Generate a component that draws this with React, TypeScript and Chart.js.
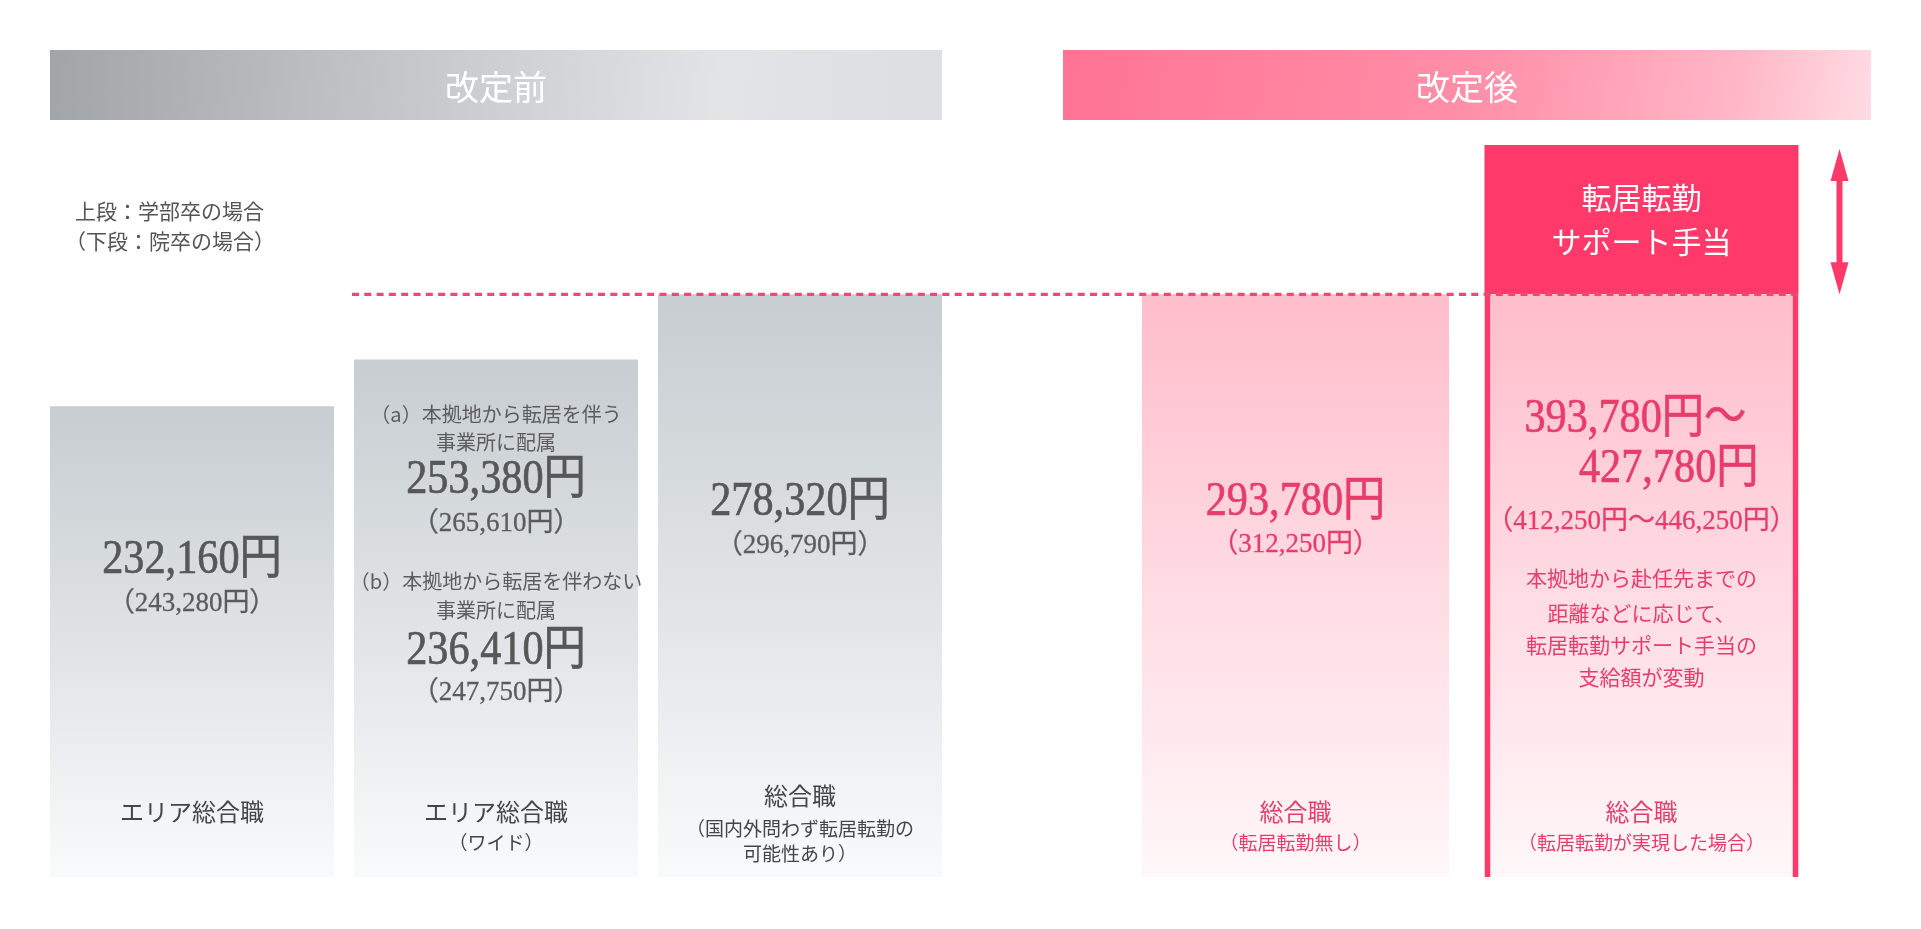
import React, { useEffect, useRef } from 'react';
import { Chart, registerables } from 'chart.js';

Chart.register(...registerables);

// ---------- data ----------
const headerTitles = ['改定前', '改定後'];
const noteLines = ['上段：学部卒の場合', '（下段：院卒の場合）'];

const beforeCategories = ['エリア総合職', 'エリア総合職（ワイド）', '総合職'];
// column heights, in % of the tallest column
const beforeLevels = [64.3, 70.7, 79.6];
const beforeUndergrad = [[232160], [253380, 236410], [278320]];
const beforeGraduate = [[243280], [265610, 247750], [296790]];
const beforeCaseNotes = [
  ['（a）本拠地から転居を伴う', '事業所に配属'],
  ['（b）本拠地から転居を伴わない', '事業所に配属'],
];
const beforeLabelLines = [
  ['エリア総合職'],
  ['エリア総合職', '（ワイド）'],
  ['総合職', '（国内外問わず転居転勤の', '可能性あり）'],
];

const afterCategories = ['総合職（転居転勤無し）', '総合職（転居転勤が実現した場合）'];
const afterBaseLevels = [79.6, 79.6];
const allowanceLevels = [79.6, 100];
const afterUndergrad = [[293780], [393780, 427780]];
const afterGraduate = [[312250], [412250, 446250]];
const afterLabelLines = [
  ['総合職', '（転居転勤無し）'],
  ['総合職', '（転居転勤が実現した場合）'],
];
const allowanceTitle = ['転居転勤', 'サポート手当'];
const allowanceNote = ['本拠地から赴任先までの', '距離などに応じて、', '転居転勤サポート手当の', '支給額が変動'];

// ---------- helpers ----------
const JP = '"Noto Sans CJK JP", "Noto Sans", sans-serif';
const NUM = '"Liberation Serif", "Noto Sans CJK JP", serif';
const PINK = '#ff3a6a';
const PINK_TEXT = '#e83d6b';
const GRAY_NUM = '#575757';
const GRAY_TEXT = '#5c5c5c';
const GRAY_LABEL = '#454545';

const yen = (n: number) => n.toLocaleString('en-US') + '円';

function drawText(
  ctx: CanvasRenderingContext2D,
  s: string,
  x: number,
  y: number,
  size: number,
  color: string,
  family: string,
  align: CanvasTextAlign = 'center',
  sx = 1,
  stroke = 0
) {
  ctx.save();
  ctx.font = `${size}px ${family}`;
  ctx.fillStyle = color;
  ctx.textBaseline = 'middle';
  ctx.textAlign = align;
  ctx.translate(x, y);
  ctx.scale(sx, 1);
  ctx.fillText(s, 0, 0);
  if (stroke > 0) {
    ctx.strokeStyle = color;
    ctx.lineWidth = stroke;
    ctx.strokeText(s, 0, 0);
  }
  ctx.restore();
}

const bigNum = (ctx: CanvasRenderingContext2D, s: string, x: number, y: number, color: string, align: CanvasTextAlign = 'center') =>
  drawText(ctx, s, x, y, 48, color, NUM, align, 0.88, 0.7);
const smallNum = (ctx: CanvasRenderingContext2D, s: string, x: number, y: number, color: string) =>
  drawText(ctx, s, x, y, 27, color, NUM, 'center', 1, 0.3);

const vGrad = (stops: [number, string][]) => (c: any) => {
  const chart = c.chart;
  const area = chart.chartArea;
  if (!area || c.type !== 'data' || !c.parsed || c.parsed.y == null) return stops[0][1];
  const top = chart.scales.y.getPixelForValue(c.parsed.y);
  const g = chart.ctx.createLinearGradient(0, top, 0, area.bottom);
  stops.forEach(([o, col]) => g.addColorStop(o, col));
  return g;
};

const grayStops: [number, string][] = [
  [0, '#c7cdd1'],
  [0.45, '#dde1e4'],
  [1, '#f9fafb'],
];
const pinkStops: [number, string][] = [
  [0, '#ffbdcb'],
  [0.5, '#ffdbe3'],
  [1, '#fff7f9'],
];

const DASH_PERIOD = 12.3;
function dashedLine(ctx: CanvasRenderingContext2D, x0: number, x1: number, y: number, offset: number) {
  ctx.save();
  ctx.strokeStyle = '#ec4a73';
  ctx.lineWidth = 3.2;
  ctx.setLineDash([7, DASH_PERIOD - 7]);
  ctx.lineDashOffset = offset;
  ctx.beginPath();
  ctx.moveTo(x0, y);
  ctx.lineTo(x1, y);
  ctx.stroke();
  ctx.restore();
}

// ---------- left (before) decorations ----------
const leftPlugin = {
  id: 'leftDecor',
  beforeDatasetsDraw(chart: any) {
    const ctx: CanvasRenderingContext2D = chart.ctx;
    const a = chart.chartArea;
    const x0 = a.left + 10;
    const x1 = a.right - 10;
    const g = ctx.createLinearGradient(x0, 50, x1, 140);
    g.addColorStop(0, '#a2a5a8');
    g.addColorStop(0.45, '#c9cbce');
    g.addColorStop(0.75, '#e3e4e6');
    g.addColorStop(1, '#dddee1');
    ctx.fillStyle = g;
    ctx.fillRect(x0, 50, x1 - x0, 70);
    drawText(ctx, headerTitles[0], (x0 + x1) / 2, 87, 34, '#ffffff', JP);
    drawText(ctx, noteLines[0], 75, 211, 21, '#555555', JP, 'left');
    drawText(ctx, noteLines[1], 65, 241, 21, '#555555', JP, 'left');
  },
  afterDatasetsDraw(chart: any) {
    const ctx: CanvasRenderingContext2D = chart.ctx;
    const y = chart.scales.y;
    const els = chart.getDatasetMeta(0).data;
    dashedLine(ctx, 352, chart.width, y.getPixelForValue(beforeLevels[2]), 0);

    // bar 1
    const x1 = els[0].x;
    bigNum(ctx, yen(beforeUndergrad[0][0]), x1, 560, GRAY_NUM);
    smallNum(ctx, '（' + yen(beforeGraduate[0][0]) + '）', x1, 604, GRAY_TEXT);
    drawText(ctx, beforeLabelLines[0][0], x1, 812, 24, GRAY_LABEL, JP);

    // bar 2
    const x2 = els[1].x;
    drawText(ctx, beforeCaseNotes[0][0], x2, 414, 20, GRAY_TEXT, JP);
    drawText(ctx, beforeCaseNotes[0][1], x2, 442, 20, GRAY_TEXT, JP);
    bigNum(ctx, yen(beforeUndergrad[1][0]), x2, 480, GRAY_NUM);
    smallNum(ctx, '（' + yen(beforeGraduate[1][0]) + '）', x2, 524, GRAY_TEXT);
    drawText(ctx, beforeCaseNotes[1][0], x2, 581, 20, GRAY_TEXT, JP);
    drawText(ctx, beforeCaseNotes[1][1], x2, 610, 20, GRAY_TEXT, JP);
    bigNum(ctx, yen(beforeUndergrad[1][1]), x2, 651, GRAY_NUM);
    smallNum(ctx, '（' + yen(beforeGraduate[1][1]) + '）', x2, 693, GRAY_TEXT);
    drawText(ctx, beforeLabelLines[1][0], x2, 812, 24, GRAY_LABEL, JP);
    drawText(ctx, beforeLabelLines[1][1], x2, 843, 19, GRAY_LABEL, JP);

    // bar 3
    const x3 = els[2].x;
    bigNum(ctx, yen(beforeUndergrad[2][0]), x3, 502, GRAY_NUM);
    smallNum(ctx, '（' + yen(beforeGraduate[2][0]) + '）', x3, 546, GRAY_TEXT);
    drawText(ctx, beforeLabelLines[2][0], x3, 796, 24, GRAY_LABEL, JP);
    drawText(ctx, beforeLabelLines[2][1], x3, 829, 19, GRAY_LABEL, JP);
    drawText(ctx, beforeLabelLines[2][2], x3, 854, 19, GRAY_LABEL, JP);
  },
};

// ---------- right (after) decorations ----------
const rightPlugin = {
  id: 'rightDecor',
  beforeDatasetsDraw(chart: any) {
    const ctx: CanvasRenderingContext2D = chart.ctx;
    const a = chart.chartArea;
    const x0 = a.left - 59.5;
    const x1 = a.right + 56.5;
    const g = ctx.createLinearGradient(x0, 30, x1, 170);
    g.addColorStop(0, '#ff7393');
    g.addColorStop(0.5, '#ff8ea8');
    g.addColorStop(0.82, '#ffb6c6');
    g.addColorStop(1, '#ffdfe6');
    ctx.fillStyle = g;
    ctx.fillRect(x0, 50, x1 - x0, 70);
    drawText(ctx, headerTitles[1], (x0 + x1) / 2, 87, 34, '#ffffff', JP);
  },
  afterDatasetsDraw(chart: any) {
    const ctx: CanvasRenderingContext2D = chart.ctx;
    const y = chart.scales.y;
    const a = chart.chartArea;
    const bar4 = chart.getDatasetMeta(0).data[0];
    const box = chart.getDatasetMeta(2).data[1];
    const boxRight = box.x + box.width / 2;
    const baseY = y.getPixelForValue(afterBaseLevels[0]);
    dashedLine(ctx, 0, boxRight, baseY, (960 - 352) % DASH_PERIOD);

    // arrow
    const ax = a.right + 25;
    const top = y.getPixelForValue(allowanceLevels[1]) + 4;
    const bot = baseY;
    ctx.save();
    ctx.fillStyle = PINK;
    ctx.fillRect(ax - 3, top + 28, 6, bot - top - 56);
    ctx.beginPath();
    ctx.moveTo(ax, top);
    ctx.lineTo(ax + 9, top + 32);
    ctx.lineTo(ax - 9, top + 32);
    ctx.closePath();
    ctx.fill();
    ctx.beginPath();
    ctx.moveTo(ax, bot);
    ctx.lineTo(ax + 9, bot - 32);
    ctx.lineTo(ax - 9, bot - 32);
    ctx.closePath();
    ctx.fill();
    ctx.restore();

    // box title
    drawText(ctx, allowanceTitle[0], box.x, 198, 30, '#ffffff', JP);
    drawText(ctx, allowanceTitle[1], box.x, 242, 30, '#ffffff', JP);

    // bar 4
    const x4 = bar4.x;
    bigNum(ctx, yen(afterUndergrad[0][0]), x4, 502, PINK_TEXT);
    smallNum(ctx, '（' + yen(afterGraduate[0][0]) + '）', x4, 545, PINK_TEXT);
    drawText(ctx, afterLabelLines[0][0], x4, 812, 24, PINK_TEXT, JP);
    drawText(ctx, afterLabelLines[0][1], x4, 843, 19, PINK_TEXT, JP);

    // bar 5
    const x5 = box.x;
    bigNum(ctx, yen(afterUndergrad[1][0]) + '〜', x5 - 117, 419, PINK_TEXT, 'left');
    bigNum(ctx, yen(afterUndergrad[1][1]), x5 + 117, 469, PINK_TEXT, 'right');
    smallNum(ctx, '（' + yen(afterGraduate[1][0]) + '〜' + yen(afterGraduate[1][1]) + '）', x5, 522, PINK_TEXT);
    const noteY = [578, 613, 645, 677];
    allowanceNote.forEach((s, i) => drawText(ctx, s, x5, noteY[i], 21, PINK_TEXT, JP));
    drawText(ctx, afterLabelLines[1][0], x5, 812, 24, PINK_TEXT, JP);
    drawText(ctx, afterLabelLines[1][1], x5, 843, 19, PINK_TEXT, JP);
  },
};

const commonOptions = (padding: any) => ({
  responsive: false,
  maintainAspectRatio: false,
  animation: false as const,
  events: [] as any[],
  layout: { padding },
  plugins: { legend: { display: false }, tooltip: { enabled: false } },
  scales: {
    x: { display: false },
    y: { display: false, min: 0, max: 100 },
  },
});

export default function App() {
  const leftRef = useRef<HTMLCanvasElement>(null);
  const rightRef = useRef<HTMLCanvasElement>(null);

  useEffect(() => {
    const left = new Chart(leftRef.current as HTMLCanvasElement, {
      type: 'bar',
      data: {
        labels: beforeCategories,
        datasets: [
          {
            label: '改定前',
            data: beforeLevels,
            backgroundColor: vGrad(grayStops) as any,
            borderWidth: 0,
            barPercentage: 284 / 304,
            categoryPercentage: 1,
          },
        ],
      },
      options: commonOptions({ left: 40, right: 8, top: 145, bottom: 52 }) as any,
      plugins: [leftPlugin],
    });

    const right = new Chart(rightRef.current as HTMLCanvasElement, {
      type: 'bar',
      data: {
        labels: afterCategories,
        datasets: [
          {
            label: '総合職（転居転勤無し）',
            data: [afterBaseLevels[0], null],
            backgroundColor: vGrad(pinkStops) as any,
            borderWidth: 0,
            grouped: false,
            barPercentage: 307 / 346,
            categoryPercentage: 1,
          },
          {
            label: '総合職（転居転勤が実現した場合）',
            data: [null, afterBaseLevels[1]],
            backgroundColor: vGrad(pinkStops) as any,
            borderColor: PINK,
            borderWidth: { left: 6, right: 6, top: 0, bottom: 0 },
            borderSkipped: false,
            grouped: false,
            barPercentage: 314 / 346,
            categoryPercentage: 1,
          },
          {
            label: '転居転勤サポート手当',
            data: [null, allowanceLevels as any],
            backgroundColor: PINK,
            borderWidth: 0,
            grouped: false,
            barPercentage: 314 / 346,
            categoryPercentage: 1,
          },
        ],
      } as any,
      options: commonOptions({ left: 162.5, right: 106.5, top: 145, bottom: 52 }) as any,
      plugins: [rightPlugin],
    });

    return () => {
      left.destroy();
      right.destroy();
    };
  }, []);

  return (
    <div
      style={{
        position: 'fixed',
        left: 0,
        top: 0,
        width: 1921,
        height: 929,
        background: '#ffffff',
        overflow: 'hidden',
      }}
    >
      <canvas ref={leftRef} width={960} height={929} style={{ position: 'absolute', left: 0, top: 0 }} />
      <canvas ref={rightRef} width={961} height={929} style={{ position: 'absolute', left: 960, top: 0 }} />
    </div>
  );
}
